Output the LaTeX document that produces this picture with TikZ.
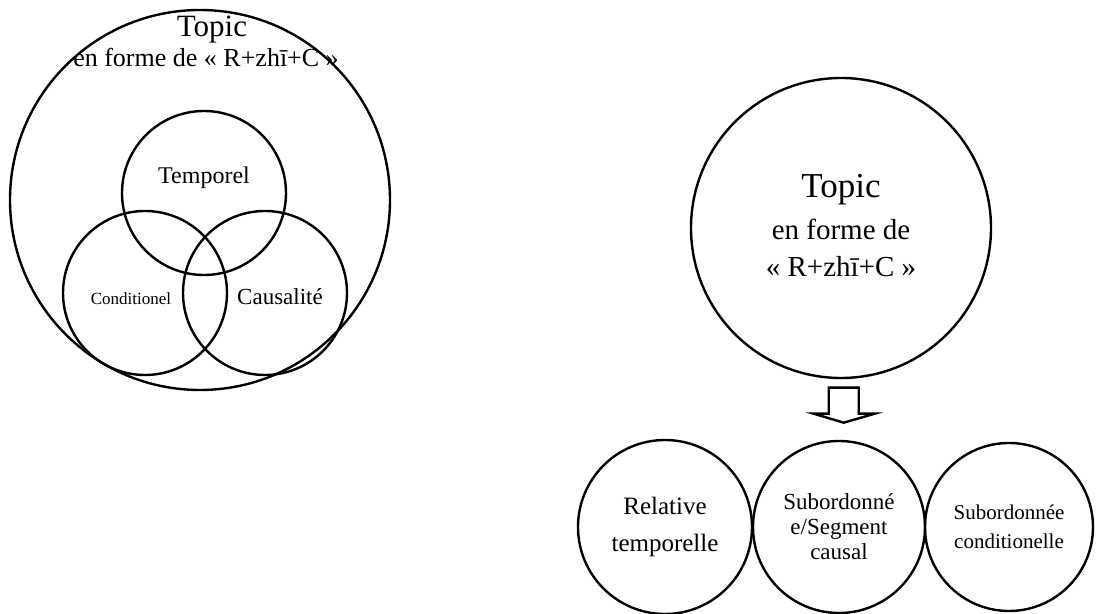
\documentclass[tikz,border=0pt]{standalone}
\usepackage{fontspec}
\setmainfont{Liberation Serif}
\usetikzlibrary{calc, positioning}

\tikzset{
  ring/.style={draw, circle, line width=1.2pt, inner sep=0pt, align=center},
  txt/.style={anchor=base, inner sep=0pt},
  hollow/.style={draw, line width=1.2pt, line join=miter, fill=white}
}
\newcommand{\fs}[1]{\fontsize{#1}{#1}\selectfont}

\begin{document}
\begin{tikzpicture}[x=0.5pt, y=-0.5pt]
  \useasboundingbox (0,0) rectangle (1110,614);

  % left: nested circles
  \node[ring, minimum size=190pt] (outer) at (200,200) {};
  \node[ring, minimum size=82pt] (temp) at (204,193) {};
  \node[ring, minimum size=82pt] (cond) at (145,293) {};
  \node[ring, minimum size=82pt] (caus) at (265,293) {};

  \node[txt, font=\fs{15.5}] (topicL) at (212,37) {Topic};
  \node[txt, font=\fs{13}] (formeL) at (206,67) {en forme de « R+zhī+C »};
  \node[txt, font=\fs{12}] (tempT) at (204,184) {Temporel};
  \node[txt, font=\fs{8.5}] (condT) at (131,305) {Conditionel};
  \node[txt, font=\fs{11.5}] (causT) at (280,305) {Causalité};

  % right: topic circle
  \node[ring, minimum size=150pt] (topicR) at (841,228) {};
  \node[txt, font=\fs{17.5}] (topicT) at (841,198) {Topic};
  \node[txt, font=\fs{14.5}] (formeR) at (841,240) {en forme de};
  \node[txt, font=\fs{14.5}] (rzc) at (841,277) {« R+zhī+C »};

  % bottom row
  \node[ring, minimum size=87pt, font=\fs{12.5}] (rel) at (665,527)
    {Relative\\[6pt]temporelle};
  \node[ring, minimum size=86pt, font=\fs{11.5}] (sub) at (839,527)
    {Subordonné\\[1pt]e/Segment\\[1pt]causal};
  \node[ring, minimum size=84pt, font=\fs{10.5}] (cnd) at (1009,527)
    {Subordonnée\\[4pt]conditionelle};

  % hollow arrow
  \coordinate (arr) at ($(topicR.south)!0.14!(sub.north)+(3,0)$);
  \draw[hollow] ($(arr)+(-15,0)$) -- ($(arr)+(-15,26)$) -- ($(arr)+(-30,26)$)
    -- ($(arr)+(0,35)$) -- ($(arr)+(31,26)$) -- ($(arr)+(15,26)$)
    -- ($(arr)+(15,0)$) -- cycle;
\end{tikzpicture}
\end{document}
